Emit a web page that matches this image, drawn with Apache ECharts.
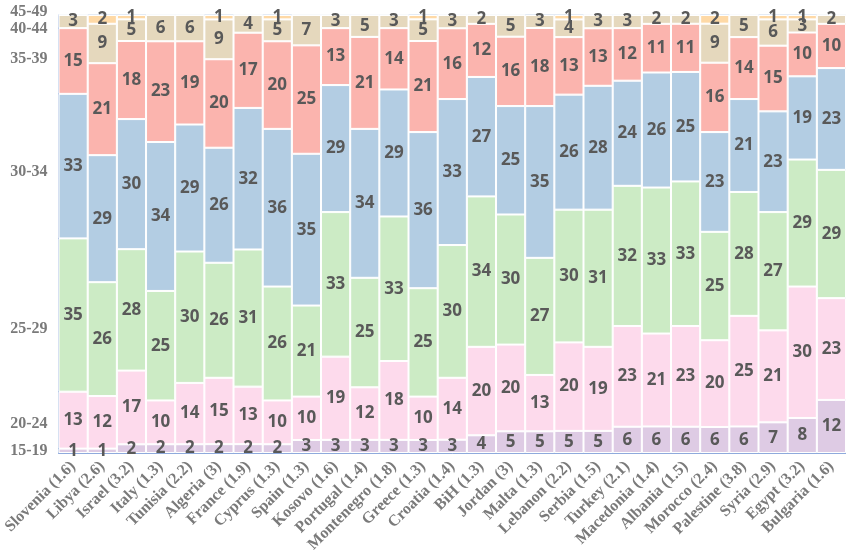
<!DOCTYPE html>
<html>
<head>
<meta charset="utf-8">
<script src="https://cdn.jsdelivr.net/npm/echarts@6/dist/echarts.min.js"></script>
<style>
  html, body { margin: 0; padding: 0; background: #fff; }
  #chart { width: 846px; height: 559px; }
</style>
</head>
<body>
<div id="chart"></div>
<script>
  // 国家（括号内为数值）
  var countries = ['Slovenia (1.6)', 'Libya (2.6)', 'Israel (3.2)', 'Italy (1.3)', 'Tunisia (2.2)', 'Algeria (3)',
    'France (1.9)', 'Cyprus (1.3)', 'Spain (1.3)', 'Kosovo (1.6)', 'Portugal (1.4)', 'Montenegro (1.8)',
    'Greece (1.3)', 'Croatia (1.4)', 'BiH (1.3)', 'Jordan (3)', 'Malta (1.3)', 'Lebanon (2.2)', 'Serbia (1.5)',
    'Turkey (2.1)', 'Macedonia (1.4)', 'Albania (1.5)', 'Morocco (2.4)', 'Palestine (3.8)', 'Syria (2.9)',
    'Egypt (3.2)', 'Bulgaria (1.6)'];
  var ageGroups = ['15-19', '20-24', '25-29', '30-34', '35-39', '40-44', '45-49'];

  var age15_19 = [1, 1, 2, 2, 2, 2, 2, 2, 3, 3, 3, 3, 3, 3, 4, 5, 5, 5, 5, 6, 6, 6, 6, 6, 7, 8, 12];
  var age20_24 = [13, 12, 17, 10, 14, 15, 13, 10, 10, 19, 12, 18, 10, 14, 20, 20, 13, 20, 19, 23, 21, 23, 20, 25, 21, 30, 23];
  var age25_29 = [35, 26, 28, 25, 30, 26, 31, 26, 21, 33, 25, 33, 25, 30, 34, 30, 27, 30, 31, 32, 33, 33, 25, 28, 27, 29, 29];
  var age30_34 = [33, 29, 30, 34, 29, 26, 32, 36, 35, 29, 34, 29, 36, 33, 27, 25, 35, 26, 28, 24, 26, 25, 23, 21, 23, 19, 23];
  var age35_39 = [15, 21, 18, 23, 19, 20, 17, 20, 25, 13, 21, 14, 21, 16, 12, 16, 18, 13, 13, 12, 11, 11, 16, 14, 15, 10, 10];
  var age40_44 = [3, 9, 5, 6, 6, 9, 4, 5, 7, 3, 5, 3, 5, 3, 2, 5, 3, 4, 3, 3, 2, 2, 9, 5, 6, 3, 2];
  var age45_49 = [0, 2, 1, 0, 0, 1, 0, 1, 0, 0, 0, 0, 1, 0, 0, 0, 0, 1, 0, 0, 0, 0, 2, 0, 1, 1, 0];

  var allSeries = [age15_19, age20_24, age25_29, age30_34, age35_39, age40_44, age45_49];
  var colors = ['#decbe4', '#fddaec', '#ccebc5', '#b3cde3', '#fbb4ae', '#e5d8bd', '#fed9a6'];
  // 左侧年龄组标签所在的位置（百分比）
  var labelAt = [0.4, 6.6, 28.3, 64.1, 90, 96.8, 100];

  // 每个国家的总和，用于 100% 堆叠
  var totals = countries.map(function (c, i) {
    return allSeries.reduce(function (s, arr) { return s + arr[i]; }, 0);
  });

  var series = allSeries.map(function (arr, k) {
    return {
      name: ageGroups[k],
      type: 'bar',
      stack: 'all',
      barCategoryGap: 0,
      itemStyle: { color: colors[k], borderColor: '#fff', borderWidth: 1 },
      label: {
        show: true,
        position: 'inside',
        color: '#595959',
        fontFamily: 'Open Sans',
        fontWeight: 'bold',
        fontSize: 17,
        formatter: function (p) {
          var v = arr[p.dataIndex];
          return v ? String(v) : '';
        }
      },
      data: arr.map(function (v, i) { return v / totals[i] * 100; })
    };
  });

  var myChart = echarts.init(document.getElementById('chart'));
  var option = {
    animation: false,
    grid: {
      left: 58, top: 15, width: 789, height: 438,
      show: true, borderColor: '#c8d6ea', borderWidth: 1
    },
    xAxis: {
      type: 'category',
      data: countries,
      axisLine: { lineStyle: { color: '#8faadc', width: 1 } },
      axisTick: { show: false },
      axisLabel: {
        interval: 0,
        rotate: 45,
        margin: 11,
        color: '#7a7a7a',
        fontFamily: 'Liberation Serif',
        fontWeight: 'bold',
        fontSize: 16
      }
    },
    yAxis: {
      type: 'value',
      min: 0,
      max: 100,
      splitLine: { show: false },
      axisTick: { show: false },
      axisLine: { show: true, lineStyle: { color: '#b4c7e7' } },
      axisLabel: {
        customValues: labelAt,
        margin: 11,
        color: '#7a7a7a',
        fontFamily: 'Liberation Serif',
        fontWeight: 'bold',
        fontSize: 16,
        formatter: function (v) {
          var i = labelAt.indexOf(v);
          if (i < 0) return '';
          return i === ageGroups.length - 1 ? '{t|' + ageGroups[i] + '}' : ageGroups[i];
        },
        rich: {
          t: {
            color: '#7a7a7a', fontFamily: 'Liberation Serif', fontWeight: 'bold', fontSize: 16,
            padding: [0, 0, 7, 0]
          }
        }
      }
    },
    series: series
  };
  myChart.setOption(option);
</script>
</body>
</html>
